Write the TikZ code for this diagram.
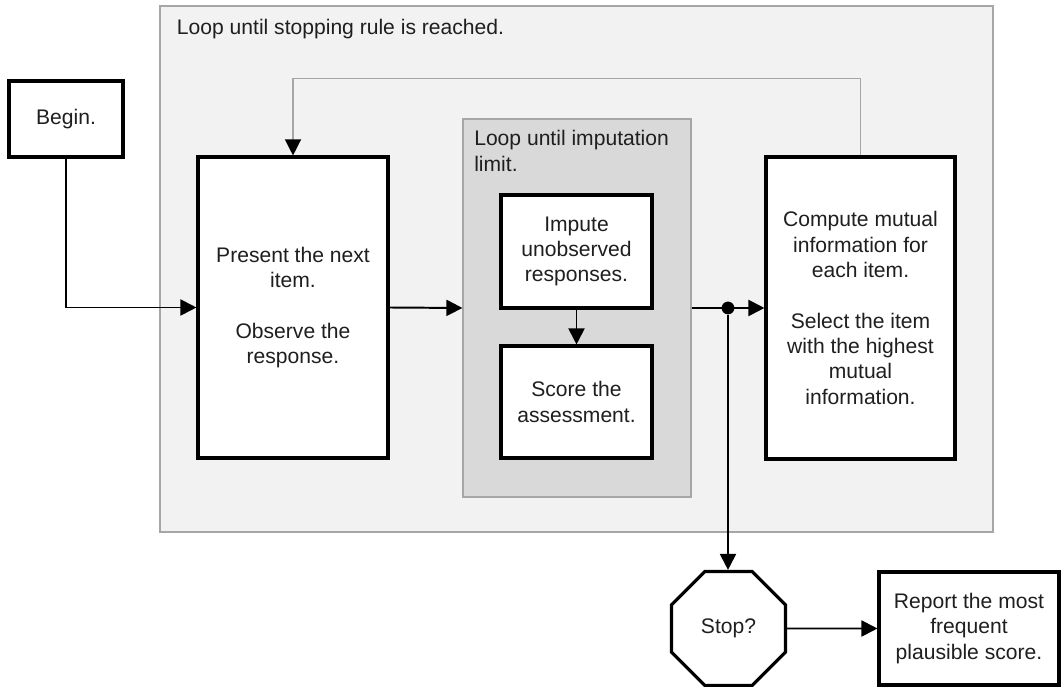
\documentclass[tikz,border=0pt]{standalone}
\usepackage{fontspec}
\setmainfont{Liberation Sans}
\usepackage{tikz}
\usetikzlibrary{shapes,arrows.meta,positioning,calc}

\definecolor{outerfill}{HTML}{F2F2F2}
\definecolor{innerfill}{HTML}{D9D9D9}
\definecolor{framegray}{HTML}{A6A6A6}
\definecolor{txtgray}{HTML}{1F1F1F}

\begin{document}
\begin{tikzpicture}[font=\fontsize{15}{18}\selectfont,text=txtgray,
    >={Triangle[length=0.4cm,width=0.4cm]},
    stepbox/.style={draw=black,line width=2.2pt,fill=white,align=center,inner sep=0pt},
    loopbox/.style={draw=framegray,line width=0.8pt,inner sep=0pt},
    flow/.style={->,line width=1.4pt},
    backflow/.style={-{Triangle[length=0.4cm,width=0.4cm,color=black]},draw=framegray,line width=0.9pt},
    junction/.style={circle,fill=black,inner sep=0pt,minimum size=0.32cm}]
  \useasboundingbox (0,0) rectangle (26.525,17.175);

  % loops
  \node[loopbox,fill=outerfill,minimum width=20.825cm,minimum height=13.15cm] (stoploop) at (14.4125,10.45) {};
  \node[anchor=base west] (stoplabel) at (4.3,16.3) {Loop until stopping rule is reached.};
  \node[loopbox,fill=innerfill,minimum width=5.7cm,minimum height=9.45cm] (imploop) at (14.425,9.475) {};
  \node[anchor=north west,align=left,inner sep=0pt] (implabel) at (11.85,13.92) {Loop until imputation\\limit.};

  % steps
  \node[stepbox,minimum width=2.85cm,minimum height=1.9cm] (begin) at (1.65,14.2) {Begin.};
  \node[stepbox,minimum width=4.75cm,minimum height=7.525cm] (present) at (7.325,9.4875)
    {Present the next\\item.\\[18pt]Observe the\\response.};
  \node[stepbox,minimum width=3.775cm,minimum height=2.825cm] (impute) at (14.4125,10.8875)
    {Impute\\unobserved\\responses.};
  \node[stepbox,minimum width=3.775cm,minimum height=2.8cm] (score) at (14.4125,7.125)
    {Score the\\assessment.};
  \node[stepbox,minimum width=4.725cm,minimum height=7.55cm] (compute) at (21.5125,9.475)
    {Compute mutual\\information for\\each item.\\[18pt]Select the item\\with the highest\\mutual\\information.};
  \node[stepbox,regular polygon,regular polygon sides=8,minimum size=3.085cm] (stop) at (18.2125,1.4625) {Stop?};
  \node[stepbox,minimum width=4.5cm,minimum height=2.825cm] (report) at (24.225,1.4625)
    {Report the most\\frequent\\plausible score.};
  \node[junction] (split) at (18.2,9.475) {};

  % connectors
  \draw[flow] (begin.south) |- (present.west);
  \draw[flow] (present.east) -- (imploop.west);
  \draw[flow] (impute.south) -- (score.north);
  \draw[flow] (imploop.east) -- (compute.west);
  \draw[flow] (split) -- (split |- stop.north);
  \draw[flow] (stop.east) -- (report.west);
  \draw[backflow] (compute.north) -- ($(compute.north)+(0,1.925)$) -| (present.north);
\end{tikzpicture}
\end{document}
